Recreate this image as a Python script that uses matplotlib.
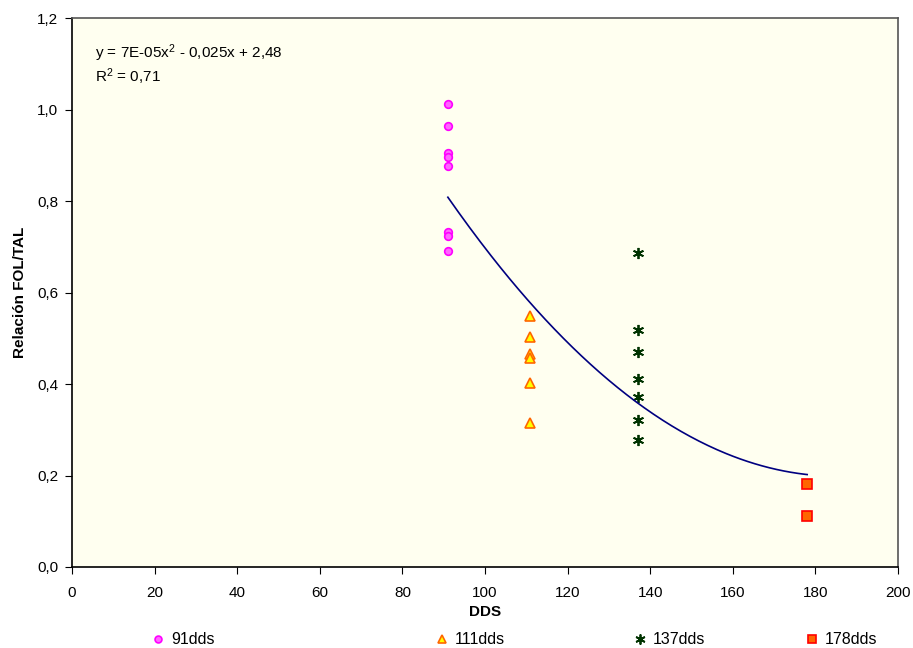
import numpy as np
import matplotlib
matplotlib.use("Agg")
import matplotlib.pyplot as plt
from matplotlib.ticker import FuncFormatter

plt.rcParams['font.family'] = ['Liberation Sans', 'DejaVu Sans']
plt.rcParams['mathtext.default'] = 'regular'

# data
x91 = 91
y91 = [1.012, 0.964, 0.905, 0.896, 0.877, 0.732, 0.724, 0.691]
x111 = 111
y111 = [0.549, 0.503, 0.466, 0.457, 0.402, 0.315]
x137 = 137
y137 = [0.686, 0.517, 0.469, 0.412, 0.371, 0.321, 0.278]
x178 = 178
y178 = [0.181, 0.111]

fig = plt.figure(figsize=(9.13, 6.48), dpi=100)
ax = fig.add_axes([0.0789, 0.125, 0.9047, 0.8472])
ax.set_facecolor('#FFFFF0')

ax.plot([x91] * len(y91), y91, 'o', ms=5.5, mfc='#FF66FF', mec='#FF00FF', mew=1.2, ls='none', label='91dds')
ax.plot([x111] * len(y111), y111, '^', ms=6.5, mfc='#FFFF00', mec='#FF6600', mew=1.2, ls='none', label='111dds')
ax.plot([x137] * len(y137), y137, marker=(6, 2, 0), ms=8, mec='#003300', mew=1.3, ls='none', label='137dds')
ax.plot([x178] * len(y178), y178, 's', ms=6.5, mfc='#FF6600', mec='#FF0000', mew=1.2, ls='none', label='178dds')

# polynomial trend line (order 2) over all points
xs = np.array([x91] * len(y91) + [x111] * len(y111) + [x137] * len(y137) + [x178] * len(y178))
ys = np.array(y91 + y111 + y137 + y178)
coef = np.polyfit(xs, ys, 2)
xf = np.linspace(x91, x178, 200)
ax.plot(xf, np.polyval(coef, xf), color='#000080', lw=1.2)

ax.set_xlim(0, 200)
ax.set_ylim(0, 1.2)
ax.set_xticks(np.arange(0, 201, 20))
ax.set_yticks(np.arange(0, 1.21, 0.2))
ax.yaxis.set_major_formatter(FuncFormatter(lambda v, p: ('%.1f' % v).replace('.', ',')))
ax.tick_params(direction='out', length=5, labelsize=11, colors='black')
ax.tick_params(axis='y', pad=5)
ax.tick_params(axis='x', pad=9)
for s in ['left', 'bottom']:
    ax.spines[s].set_color('black')
    ax.spines[s].set_linewidth(1.2)
for s in ['top', 'right']:
    ax.spines[s].set_color('#555555')
    ax.spines[s].set_linewidth(1.2)

ax.set_xlabel('DDS', fontsize=11, fontweight='bold', labelpad=3)
ax.set_ylabel('Relación FOL/TAL', fontsize=11, fontweight='bold', labelpad=7)

ax.text(0.028, 0.936, 'y = 7E-05x$^2$ - 0,025x + 2,48', transform=ax.transAxes,
        fontsize=11, va='center', ha='left')
ax.text(0.028, 0.8925, 'R$^2$ = 0,71', transform=ax.transAxes,
        fontsize=11, va='center', ha='left')

handles, labels = ax.get_legend_handles_labels()
legx = [150, 434, 632, 804]
for h, l, px in zip(handles, labels, legx):
    fig.legend([h], [l], loc='center left', bbox_to_anchor=(px / 913, 1 - 640 / 648),
               frameon=False, fontsize=11.5, handlelength=1.0, handletextpad=0.3,
               borderpad=0, borderaxespad=0, markerscale=0.9)

fig.savefig('out.png', dpi=100)
